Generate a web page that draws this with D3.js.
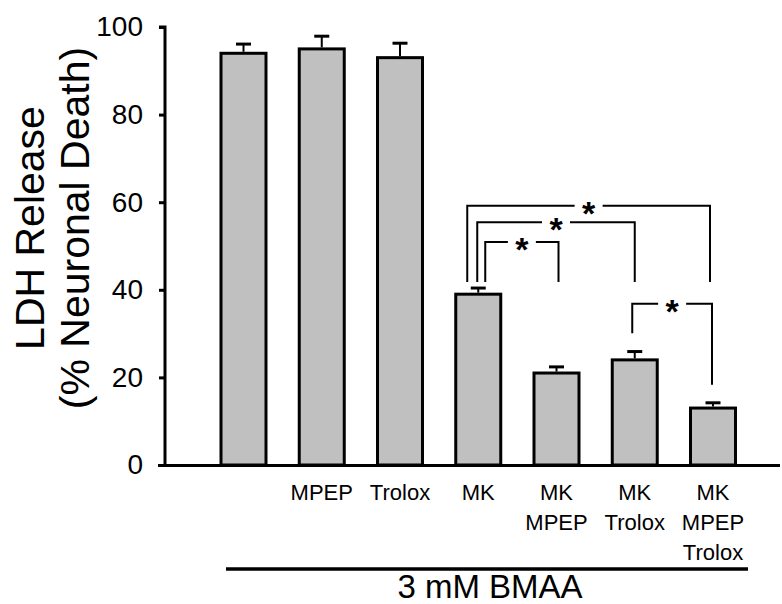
<!DOCTYPE html>
<meta charset="utf-8">
<style>
body { margin: 0; background: #fff; }
text { font-family: "Liberation Sans", Arial, sans-serif; fill: #000; }
.bar { fill: #c0c0c0; stroke: #000; stroke-width: 3px; }
.err { stroke: #000; stroke-width: 2px; }
.cap { stroke: #000; stroke-width: 3px; }
.bracket { fill: none; stroke: #000; stroke-width: 2px; }
.axis path, .axis line { stroke: #000; stroke-width: 3px; }
</style>
<body>
<script src="https://d3js.org/d3.v7.min.js"></script>
<script>

// data
var groups = ["ctrl", "mpep", "trolox", "mk", "mk_mpep", "mk_trolox", "mk_mpep_trolox"];
var labels = [[], ["MPEP"], ["Trolox"], ["MK"], ["MK", "MPEP"], ["MK", "Trolox"], ["MK", "MPEP", "Trolox"]];
var means = [94, 95, 93, 39, 21, 24, 13];
var sems = [2.1, 2.9, 3.3, 1.4, 1.4, 1.9, 1.2];
var yTicks = [0, 20, 40, 60, 80, 100];

// significance brackets: from group, to group, top level, left foot, right foot, x nudges
var sigFrom = ["mk", "mk", "mk", "mk_trolox"];
var sigTo = ["mk_mpep_trolox", "mk_trolox", "mk_mpep", "mk_mpep_trolox"];
var sigTop = [59.2, 55.4, 50.9, 36.8];
var sigFootL = [41.8, 41.8, 41.8, 30.1];
var sigFootR = [41.8, 41.8, 41.8, 18.3];
var sigNudgeL = [-11, -1, 7, -2.5];
var sigNudgeR = [-3, 0, 2, -1];

var width = 782,
    height = 604;

var svg = d3.select("body").append("svg")
    .attr("width", width)
    .attr("height", height);

var x = d3.scaleBand()
    .domain(groups)
    .range([204.375, 752.125])
    .paddingInner(0.425)
    .paddingOuter(0.2125);

var y = d3.scaleLinear()
    .domain([0, 100])
    .range([465, 27]);

var cx = function(g) { return x(g) + x.bandwidth() / 2; };

// y axis
var yAxis = svg.append("g")
    .attr("class", "axis")
    .attr("transform", "translate(165,0)")
    .call(d3.axisLeft(y).tickValues(yTicks).tickSize(6).tickSizeOuter(0).tickPadding(16));
yAxis.selectAll("text").attr("font-size", 28).style("font-family", "Liberation Sans, Arial, sans-serif");
yAxis.select(".domain").attr("d", "M-6," + y(100) + "H0V" + y(0));

// bars
svg.selectAll(".bar")
    .data(groups)
    .enter()
    .append("rect")
    .attr("class", "bar")
    .attr("x", function(d) { return x(d); })
    .attr("width", x.bandwidth())
    .attr("y", function(d, i) { return y(means[i]); })
    .attr("height", function(d, i) { return y(0) - y(means[i]); });

// error bars
svg.selectAll(".err")
    .data(groups)
    .enter()
    .append("line")
    .attr("class", "err")
    .attr("x1", cx).attr("x2", cx)
    .attr("y1", function(d, i) { return y(means[i]) - 1.5; })
    .attr("y2", function(d, i) { return y(means[i] + sems[i]); });

svg.selectAll(".cap")
    .data(groups)
    .enter()
    .append("line")
    .attr("class", "cap")
    .attr("x1", function(d) { return cx(d) - 7.5; })
    .attr("x2", function(d) { return cx(d) + 7.5; })
    .attr("y1", function(d, i) { return y(means[i] + sems[i]); })
    .attr("y2", function(d, i) { return y(means[i] + sems[i]); });

// x axis baseline
svg.append("line")
    .attr("x1", 158).attr("x2", 780)
    .attr("y1", y(0) + 0.5).attr("y2", y(0) + 0.5)
    .attr("stroke", "#000").attr("stroke-width", 3);

// category labels
var lab = svg.selectAll(".cat")
    .data(groups)
    .enter()
    .append("text")
    .attr("class", "cat")
    .attr("text-anchor", "middle")
    .attr("font-size", 22);
lab.selectAll("tspan")
    .data(function(d, i) { return labels[i].map(function(t) { return {t: t, x: cx(d)}; }); })
    .enter()
    .append("tspan")
    .attr("x", function(d) { return d.x; })
    .attr("y", function(d, j) { return 500 + j * 30; })
    .text(function(d) { return d.t; });

// treatment line
svg.append("line")
    .attr("x1", 226).attr("x2", 748)
    .attr("y1", 569).attr("y2", 569)
    .attr("stroke", "#000").attr("stroke-width", 3.5);

svg.append("text")
    .attr("x", 490)
    .attr("y", 598)
    .attr("text-anchor", "middle")
    .attr("font-size", 33)
    .text("3 mM BMAA");

// y title
var title = svg.append("text")
    .attr("transform", "translate(0,228) rotate(-90)")
    .attr("text-anchor", "middle")
    .attr("font-size", 41);
title.append("tspan").attr("x", 0).attr("y", 44).text("LDH Release");
title.append("tspan").attr("x", 0).attr("y", 89).text("(% Neuronal Death)");

// significance brackets
sigFrom.forEach(function(f, i) {
    var x1 = cx(f) + sigNudgeL[i],
        x2 = cx(sigTo[i]) + sigNudgeR[i],
        yt = y(sigTop[i]),
        xm = (x1 + x2) / 2,
        gap = 14;
    svg.append("path")
        .attr("class", "bracket")
        .attr("d", "M" + x1 + "," + y(sigFootL[i]) + "V" + yt + "H" + (xm - gap) +
                   "M" + (xm + gap) + "," + yt + "H" + x2 + "V" + y(sigFootR[i]));
    svg.append("text")
        .attr("x", xm)
        .attr("y", yt + 19)
        .attr("text-anchor", "middle")
        .attr("font-size", 34)
        .attr("font-weight", "bold")
        .text("*");
});

</script>
